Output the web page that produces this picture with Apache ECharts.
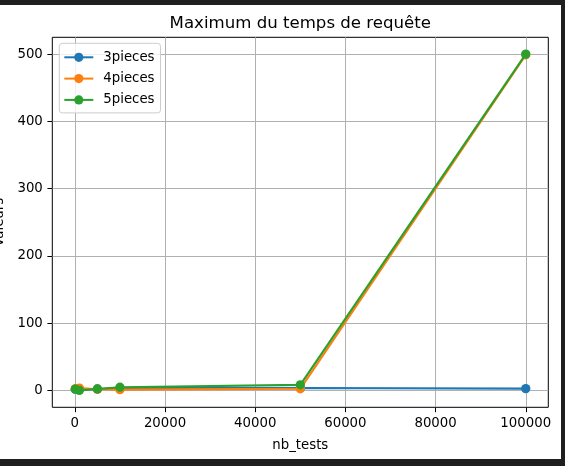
<!DOCTYPE html>
<html>
<head>
<meta charset="utf-8">
<script src="https://cdn.jsdelivr.net/npm/echarts@6/dist/echarts.min.js"></script>
<style>
html,body{margin:0;padding:0;background:#1f1f1f;width:565px;height:466px;overflow:hidden;}
#paper{position:absolute;left:0;top:5px;width:561px;height:454px;background:#ffffff;}
#chart{position:absolute;left:0;top:0;width:565px;height:466px;}
</style>
</head>
<body>
<div id="paper"></div>
<div id="chart"></div>
<script>
const nbTests = [100, 1000, 5000, 10000, 50000, 100000];
const pieces3 = [2.0, 1.5, 2.2, 3.5, 3.8, 2.8];
const pieces4 = [2.5, 3.5, 1.8, 1.2, 2.5, 499];
const pieces5 = [2.0, 0.2, 2.3, 4.8, 8.4, 500];
const seriesNames = ['3pieces', '4pieces', '5pieces'];
const xTicks = [0, 20000, 40000, 60000, 80000, 100000];
const yTicks = [0, 100, 200, 300, 400, 500];

const colors = ['#1f77b4', '#ff7f0e', '#2ca02c'];
const font = 'DejaVu Sans';
const fs = 13.3;

function pairs(ys) { return nbTests.map((x, i) => [x, ys[i]]); }

const chart = echarts.init(document.getElementById('chart'), null, {renderer: 'canvas'});
const allSeries = [pieces3, pieces4, pieces5].map((ys, i) => ({
  name: seriesNames[i],
  type: 'line',
  data: pairs(ys),
  symbol: 'circle',
  symbolSize: 9.3,
  showAllSymbol: true,
  lineStyle: {width: 2.1, color: colors[i]},
  itemStyle: {color: colors[i], borderWidth: 0},
  z: 3 + i,
  animation: false
}));

chart.setOption({
  animation: false,
  color: colors,
  title: {
    text: 'Maximum du temps de requête',
    left: 295.3,
    textAlign: 'center',
    top: 10.5,
    textStyle: {fontFamily: font, fontSize: 16.6, fontWeight: 'normal', color: '#000'}
  },
  legend: {
    orient: 'vertical',
    left: 59.3,
    top: 43.3,
    padding: [6, 6, 5, 4],
    itemWidth: 29,
    itemHeight: 11.5,
    itemGap: 5.3,
    borderColor: '#cccccc',
    borderWidth: 1,
    borderRadius: 3,
    backgroundColor: 'rgba(255,255,255,0.8)',
    textStyle: {fontFamily: font, fontSize: fs, color: '#000', lineHeight: 16, padding: [0, 0, 0, 5]},
    data: seriesNames
  },
  grid: {
    left: 52.3, top: 37.3, right: 16.7, bottom: 58.7,
    show: true, borderColor: '#000', borderWidth: 1, backgroundColor: 'transparent',
    containLabel: false,
    outerBoundsMode: 'none'
  },
  xAxis: {
    type: 'value',
    min: -5000, max: 105000,
    name: 'nb_tests',
    nameLocation: 'middle',
    nameGap: 32,
    nameTextStyle: {fontFamily: font, fontSize: fs, color: '#000'},
    axisLine: {show: false, onZero: false},
    axisTick: {show: true, length: 4.9, lineStyle: {color: '#000', width: 1}, customValues: xTicks},
    axisLabel: {fontFamily: font, fontSize: fs, color: '#000', margin: 9.5, customValues: xTicks,
      formatter: v => String(v)},
    splitLine: {show: true, lineStyle: {color: '#b0b0b0', width: 1}}
  },
  yAxis: {
    type: 'value',
    min: -25, max: 525,
    name: 'Valeurs',
    nameLocation: 'middle',
    nameRotate: 90,
    nameGap: 43,
    nameTextStyle: {fontFamily: font, fontSize: fs, color: '#000'},
    axisLine: {show: false, onZero: false},
    axisTick: {show: true, length: 4.9, lineStyle: {color: '#000', width: 1}, customValues: yTicks},
    axisLabel: {fontFamily: font, fontSize: fs, color: '#000', margin: 9.5, customValues: yTicks,
      formatter: v => String(v)},
    splitLine: {show: true, lineStyle: {color: '#b0b0b0', width: 1}}
  },
  series: allSeries
});
</script>
</body>
</html>
